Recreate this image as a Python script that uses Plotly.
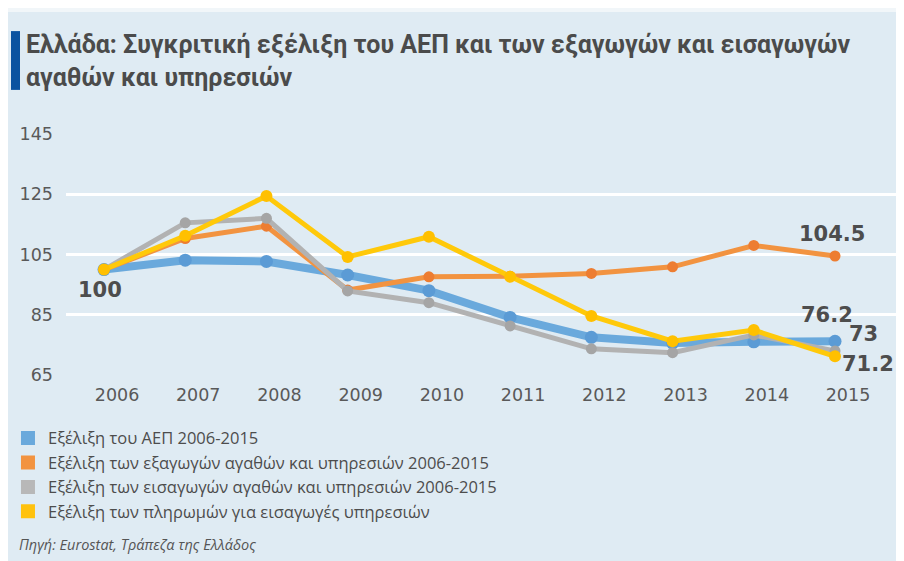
import plotly.graph_objects as go

years = [2006, 2007, 2008, 2009, 2010, 2011, 2012, 2013, 2014, 2015]

gdp = [100, 103.1, 102.7, 98.2, 93.0, 84.1, 77.5, 75.6, 76.0, 76.2]
exports = [100, 110.3, 114.4, 93.2, 97.6, 97.8, 98.7, 100.9, 108.0, 104.5]
imports = [100, 115.5, 117.0, 92.9, 89.0, 81.3, 73.7, 72.4, 78.3, 73.0]
service_payments = [100, 111.2, 124.4, 104.2, 110.9, 97.6, 84.6, 76.2, 79.9, 71.2]

series_names = [
    "Εξέλιξη του ΑΕΠ 2006-2015",
    "Εξέλιξη των εξαγωγών αγαθών και υπηρεσιών 2006-2015",
    "Εξέλιξη των εισαγωγών αγαθών και υπηρεσιών 2006-2015",
    "Εξέλιξη των πληρωμών για εισαγωγές υπηρεσιών",
]
title_text = "Ελλάδα: Συγκριτική εξέλιξη του ΑΕΠ και των εξαγωγών και εισαγωγών<br>αγαθών και υπηρεσιών"
source_text = "Πηγή: Eurostat, Τράπεζα της Ελλάδος"

y_ticks = [65, 85, 105, 125, 145]

styles = [
    dict(line="#6aa9dc", marker="#5b9bd5", width=8, size=13, legend="#6aa9dc"),
    dict(line="#f29340", marker="#ed7d31", width=5, size=11, legend="#f29340"),
    dict(line="#b2b2b2", marker="#a5a5a5", width=5, size=11, legend="#b8b8b8"),
    dict(line="#ffc90a", marker="#ffc000", width=5, size=12, legend="#ffc20e"),
]

TEXT = "#4d4d4d"
NUM_FONT = "DejaVu Sans"
FONT = "Open Sans"

fig = go.Figure()

for name, values, st in zip(series_names, [gdp, exports, imports, service_payments], styles):
    fig.add_trace(
        go.Scatter(
            x=years,
            y=values,
            mode="lines+markers",
            line=dict(color=st["line"], width=st["width"]),
            marker=dict(color=st["marker"], size=st["size"]),
            showlegend=False,
            hoverinfo="x+y",
        )
    )

# legend entries as coloured squares
for name, st in zip(series_names, styles):
    fig.add_trace(
        go.Scatter(
            x=[None],
            y=[None],
            mode="markers",
            name=name,
            marker=dict(color=st["legend"], size=14, symbol="square"),
        )
    )

# start / end value labels
labels = [
    (2006, gdp[0], "100", -4, -20),
    (2015, exports[-1], "104.5", -3, 22),
    (2015, gdp[-1], "76.2", -8, 26),
    (2015, imports[-1], "73", 28, 17),
    (2015, service_payments[-1], "71.2", 33, -8),
]
for x, y, txt, dx, dy in labels:
    fig.add_annotation(
        x=x, y=y, text=f"<b>{txt}</b>", showarrow=False,
        xshift=dx, yshift=dy,
        font=dict(family=NUM_FONT, size=21, color=TEXT),
    )

fig.add_annotation(
    xref="paper", yref="paper", x=-0.059, y=-0.705,
    xanchor="left", yanchor="middle", text=f"<i>{source_text}</i>",
    showarrow=False, font=dict(family=FONT, size=14.5, color="#555555"),
)

# panel background and title bar
fig.add_shape(
    type="rect", xref="paper", yref="paper",
    x0=-0.0723, x1=1.03, y0=-0.85, y1=1.506,
    fillcolor="#dfebf3", line_width=0, layer="below",
)
fig.add_shape(
    type="rect", xref="paper", yref="paper",
    x0=-0.0663, x1=-0.0554, y0=1.183, y1=1.427,
    fillcolor="#0b53a0", line_width=0,
)

fig.update_layout(
    width=904,
    height=561,
    margin=dict(l=58, r=16, t=126, b=194, autoexpand=False),
    paper_bgcolor="#f1f6f9",
    plot_bgcolor="rgba(0,0,0,0)",
    title=dict(
        text=f"<b>{title_text}</b>",
        x=18 / 904, xanchor="left",
        y=1 - 45 / 561, yanchor="top",
        font=dict(family="Roboto", size=25, color="#4b4b4b"),
    ),
    xaxis=dict(
        range=[2005.532, 2015.751],
        tickmode="array",
        tickvals=years,
        showgrid=False,
        zeroline=False,
        showline=False,
        ticks="",
        automargin=False,
        ticklabelshift=13,
        ticklabelstandoff=7,
        tickfont=dict(family=NUM_FONT, size=17.5, color="#595959"),
    ),
    yaxis=dict(
        range=[65, 145],
        tickmode="array",
        tickvals=y_ticks,
        gridcolor="#ffffff",
        gridwidth=2.5,
        zeroline=False,
        showline=False,
        ticks="",
        automargin=False,
        ticklabelstandoff=12,
        tickfont=dict(family=NUM_FONT, size=17.5, color="#595959"),
    ),
    legend=dict(
        x=-0.0699, y=-0.19, xanchor="left", yanchor="top",
        orientation="v",
        font=dict(family=FONT, size=16.5, color=TEXT),
        bgcolor="rgba(0,0,0,0)",
        itemwidth=30,
    ),
    hovermode="closest",
)

fig.write_html("out.html")
